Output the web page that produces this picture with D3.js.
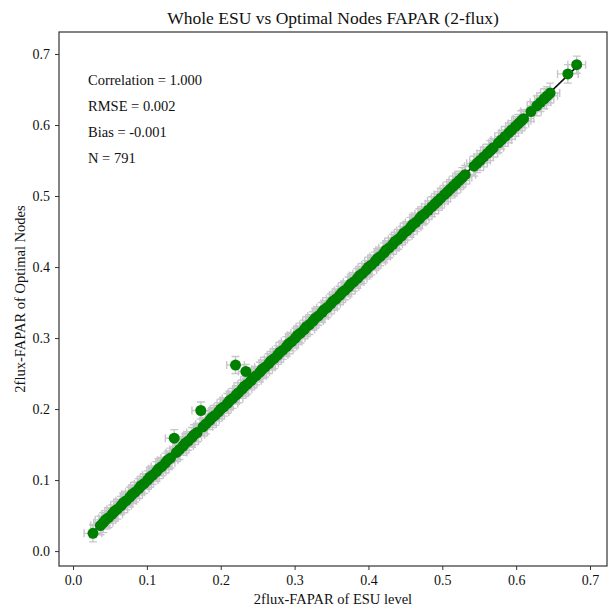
<!DOCTYPE html>
<html><head><meta charset="utf-8">
<script src="https://cdn.jsdelivr.net/npm/d3@7"></script>
<style>
html,body{margin:0;padding:0;background:#fff;}
svg{display:block;font-family:"Liberation Serif","Times New Roman",serif;}
</style></head>
<body><svg id="c" width="609" height="609"></svg>
<script>
// ESU-level FAPAR (x) and optimal-node FAPAR (y)
const esu = [0.027,0.037,0.041,0.044,0.048,0.053,0.056,0.060,0.065,0.068,0.072,0.077,0.080,0.084,0.089,0.092,0.096,0.101,0.104,0.108,0.113,0.116,0.120,0.125,0.128,0.132,0.137,0.140,0.144,0.149,0.152,0.156,0.161,0.164,0.168,0.173,0.176,0.180,0.185,0.188,0.192,0.197,0.200,0.204,0.209,0.212,0.216,0.220,0.221,0.224,0.229,0.232,0.234,0.236,0.241,0.244,0.248,0.253,0.256,0.260,0.265,0.268,0.272,0.277,0.280,0.284,0.289,0.292,0.296,0.301,0.304,0.308,0.313,0.316,0.320,0.325,0.328,0.332,0.337,0.340,0.344,0.349,0.352,0.356,0.361,0.364,0.368,0.373,0.376,0.380,0.385,0.388,0.392,0.397,0.400,0.404,0.409,0.412,0.416,0.421,0.424,0.428,0.433,0.436,0.440,0.445,0.448,0.452,0.457,0.460,0.464,0.469,0.472,0.476,0.481,0.486,0.490,0.494,0.498,0.503,0.507,0.511,0.515,0.519,0.523,0.527,0.531,0.543,0.547,0.551,0.556,0.561,0.565,0.569,0.576,0.580,0.585,0.590,0.594,0.599,0.603,0.607,0.610,0.620,0.628,0.633,0.638,0.642,0.646,0.670,0.682];
const nodes = [0.025,0.036,0.040,0.044,0.047,0.052,0.056,0.059,0.064,0.068,0.071,0.076,0.080,0.083,0.088,0.092,0.095,0.100,0.104,0.107,0.112,0.116,0.119,0.124,0.128,0.131,0.159,0.139,0.143,0.148,0.152,0.155,0.160,0.164,0.167,0.198,0.175,0.179,0.184,0.188,0.191,0.196,0.200,0.203,0.208,0.212,0.215,0.262,0.220,0.223,0.228,0.232,0.253,0.235,0.240,0.244,0.247,0.252,0.256,0.259,0.264,0.268,0.271,0.276,0.280,0.283,0.288,0.292,0.295,0.300,0.304,0.307,0.312,0.316,0.319,0.324,0.328,0.331,0.336,0.340,0.343,0.348,0.352,0.355,0.360,0.364,0.367,0.372,0.376,0.379,0.384,0.388,0.391,0.396,0.400,0.403,0.408,0.412,0.415,0.420,0.424,0.427,0.432,0.436,0.439,0.444,0.448,0.451,0.456,0.460,0.463,0.468,0.472,0.475,0.480,0.485,0.489,0.493,0.497,0.502,0.506,0.510,0.514,0.518,0.522,0.526,0.530,0.542,0.546,0.550,0.555,0.560,0.564,0.568,0.575,0.579,0.584,0.589,0.593,0.598,0.602,0.606,0.609,0.619,0.627,0.632,0.637,0.641,0.645,0.672,0.685];
// error bar half-widths (std) in x and y
const esuErr = [0.012,0.013,0.013,0.014,0.013,0.014,0.013,0.014,0.014,0.013,0.014,0.013,0.014,0.013,0.014,0.014,0.013,0.014,0.013,0.014,0.013,0.014,0.014,0.013,0.014,0.013,0.012,0.014,0.013,0.014,0.013,0.014,0.013,0.014,0.014,0.012,0.013,0.014,0.013,0.014,0.013,0.014,0.014,0.013,0.014,0.013,0.014,0.012,0.013,0.014,0.013,0.014,0.010,0.013,0.014,0.013,0.014,0.013,0.014,0.014,0.013,0.014,0.013,0.014,0.013,0.014,0.014,0.013,0.014,0.013,0.014,0.013,0.014,0.014,0.013,0.014,0.013,0.014,0.013,0.014,0.014,0.013,0.014,0.013,0.014,0.013,0.014,0.014,0.013,0.014,0.013,0.014,0.013,0.014,0.014,0.013,0.014,0.013,0.014,0.013,0.014,0.014,0.013,0.014,0.013,0.014,0.013,0.014,0.014,0.013,0.014,0.013,0.014,0.013,0.014,0.014,0.013,0.014,0.013,0.014,0.013,0.014,0.014,0.013,0.014,0.013,0.014,0.013,0.014,0.014,0.013,0.014,0.013,0.014,0.013,0.014,0.014,0.013,0.014,0.013,0.014,0.013,0.014,0.014,0.013,0.014,0.013,0.014,0.013,0.014,0.012,0.013,0.012];
const nodesErr = [0.012,0.013,0.014,0.013,0.014,0.013,0.014,0.014,0.013,0.014,0.013,0.014,0.013,0.014,0.014,0.013,0.014,0.013,0.014,0.013,0.014,0.014,0.013,0.014,0.013,0.014,0.012,0.013,0.014,0.013,0.014,0.013,0.014,0.014,0.013,0.012,0.013,0.014,0.013,0.014,0.014,0.013,0.014,0.013,0.014,0.013,0.014,0.012,0.013,0.014,0.013,0.014,0.010,0.014,0.013,0.014,0.013,0.014,0.013,0.014,0.014,0.013,0.014,0.013,0.014,0.013,0.014,0.014,0.013,0.014,0.013,0.014,0.013,0.014,0.014,0.013,0.014,0.013,0.014,0.013,0.014,0.014,0.013,0.014,0.013,0.014,0.013,0.014,0.014,0.013,0.014,0.013,0.014,0.013,0.014,0.014,0.013,0.014,0.013,0.014,0.013,0.014,0.014,0.013,0.014,0.013,0.014,0.013,0.014,0.014,0.013,0.014,0.013,0.014,0.013,0.014,0.014,0.013,0.014,0.013,0.014,0.013,0.014,0.014,0.013,0.014,0.013,0.014,0.013,0.014,0.014,0.013,0.014,0.013,0.014,0.013,0.014,0.014,0.013,0.014,0.013,0.014,0.013,0.014,0.014,0.013,0.014,0.013,0.014,0.013,0.012,0.012];
// 1:1 reference line
const lineX = [0.025, 0.685];
const lineY = [0.025, 0.685];
const xTicks = [0.0,0.1,0.2,0.3,0.4,0.5,0.6,0.7];
const yTicks = [0.0,0.1,0.2,0.3,0.4,0.5,0.6,0.7];
const statLabels = ["Correlation = 1.000","RMSE = 0.002","Bias = -0.001","N = 791"];
const titleText = "Whole ESU vs Optimal Nodes FAPAR (2-flux)";
const xLabel = "2flux-FAPAR of ESU level";
const yLabel = "2flux-FAPAR of Optimal Nodes";

const W = 609, H = 609;
const m = {l:59, r:2, t:32, b:43};
const svg = d3.select("#c");
const x = d3.scaleLinear().domain([-0.019, 0.723]).range([m.l, W - m.r]);
const y = d3.scaleLinear().domain([-0.021, 0.731]).range([H - m.b, m.t]);

const pts = esu.map((v,i)=>({x:v, y:nodes[i], ex:esuErr[i], ey:nodesErr[i]}));
const plot = svg.append("g");
const errCol = "#c8c6cc";
const cap = 4;
// error bars
const eb = plot.append("g").attr("stroke", errCol).attr("stroke-width", 1.4).attr("fill","none");
pts.forEach(d=>{
  const cx = x(d.x), cy = y(d.y);
  const x0 = x(d.x - d.ex), x1 = x(d.x + d.ex);
  const y0 = y(d.y - d.ey), y1 = y(d.y + d.ey);
  eb.append("path").attr("d",
    `M${x0},${cy}H${x1}M${cx},${y0}V${y1}` +
    `M${x0},${cy-cap}V${cy+cap}M${x1},${cy-cap}V${cy+cap}` +
    `M${cx-cap},${y0}H${cx+cap}M${cx-cap},${y1}H${cx+cap}`);
});
// reference line
plot.append("line")
  .attr("x1", x(lineX[0])).attr("y1", y(lineY[0]))
  .attr("x2", x(lineX[1])).attr("y2", y(lineY[1]))
  .attr("stroke", "#111").attr("stroke-width", 1.6);
// markers
plot.append("g").selectAll("circle").data(pts).join("circle")
  .attr("cx", d=>x(d.x)).attr("cy", d=>y(d.y)).attr("r", 5.5)
  .attr("fill", "#008000");

// frame
svg.append("rect").attr("x", m.l).attr("y", m.t)
  .attr("width", W - m.r - m.l).attr("height", H - m.b - m.t)
  .attr("fill","none").attr("stroke","#333").attr("stroke-width",1.2);

// axes
const xa = svg.append("g").attr("transform", `translate(0,${H - m.b})`)
  .call(d3.axisBottom(x).tickValues(xTicks).tickFormat(d3.format(".1f")).tickSize(4).tickPadding(5));
const ya = svg.append("g").attr("transform", `translate(${m.l},0)`)
  .call(d3.axisLeft(y).tickValues(yTicks).tickFormat(d3.format(".1f")).tickSize(4).tickPadding(5));
[xa, ya].forEach(a=>{
  a.select(".domain").remove();
  a.selectAll("line").attr("stroke","#333");
  a.selectAll("text").attr("font-family","Liberation Serif").attr("font-size",14).attr("fill","#111");
});

// title & labels
svg.append("text").attr("x", (m.l + W - m.r)/2).attr("y", 24).attr("text-anchor","middle")
  .attr("font-size", 17.5).attr("fill","#111").text(titleText);
svg.append("text").attr("x", (m.l + W - m.r)/2).attr("y", 604).attr("text-anchor","middle")
  .attr("font-size", 14.5).attr("fill","#111").text(xLabel);
svg.append("text").attr("transform", `translate(25,${(m.t + H - m.b)/2}) rotate(-90)`)
  .attr("text-anchor","middle").attr("font-size", 14.5).attr("fill","#111").text(yLabel);

// statistics annotation
svg.append("g").selectAll("text").data(statLabels).join("text")
  .attr("x", 88).attr("y", (d,i)=>85 + i*26)
  .attr("font-size", 14.5).attr("fill","#111").text(d=>d);
</script></body></html>
